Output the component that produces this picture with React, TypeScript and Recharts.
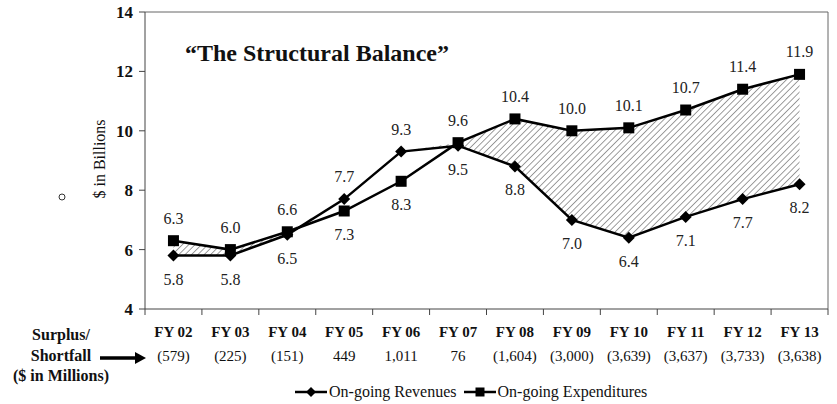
import {
  ComposedChart,
  Line,
  Area,
  XAxis,
  YAxis,
  CartesianGrid,
  LabelList,
  Legend,
} from "recharts";

const years = ["FY 02", "FY 03", "FY 04", "FY 05", "FY 06", "FY 07", "FY 08", "FY 09", "FY 10", "FY 11", "FY 12", "FY 13"];
const revenues = [5.8, 5.8, 6.5, 7.7, 9.3, 9.5, 8.8, 7.0, 6.4, 7.1, 7.7, 8.2];
const expenditures = [6.3, 6.0, 6.6, 7.3, 8.3, 9.6, 10.4, 10.0, 10.1, 10.7, 11.4, 11.9];
const surplus = ["(579)", "(225)", "(151)", "449", "1,011", "76", "(1,604)", "(3,000)", "(3,639)", "(3,637)", "(3,733)", "(3,638)"];
const yTicks = [4, 6, 8, 10, 12, 14];

// hatched band only where spending is above revenue
const data = years.map((name, i) => ({
  name,
  rev: revenues[i],
  exp: expenditures[i],
  band: [revenues[i], Math.max(revenues[i], expenditures[i])],
}));

const W = 837;
const H = 404;
const Y_W = 145;
const M = { top: 12, right: 9, left: 0, bottom: 2 };
const STEP = (W - Y_W - M.right) / years.length;
const FONT = "'Times New Roman', 'Liberation Serif', serif";
const AXIS = "#444";

const XTick = (props: any) => {
  const { x, y, payload, index } = props;
  const half = STEP / 2;
  return (
    <g>
      <line x1={x + half} x2={x + half} y1={y} y2={y + 6} stroke={AXIS} />
      {index === 0 && <line x1={x - half} x2={x - half} y1={y} y2={y + 6} stroke={AXIS} />}
      <text x={x} y={y + 28} textAnchor="middle" fontSize={15} fontWeight="bold" fontFamily={FONT} fill="#111">
        {payload.value}
      </text>
      <text x={x} y={y + 52} textAnchor="middle" fontSize={15} fontFamily={FONT} fill="#111">
        {surplus[index]}
      </text>
    </g>
  );
};

const pointLabel = (own: number[], other: number[]) => (props: any) => {
  const { x, y, index } = props;
  const above = own[index] >= other[index];
  return (
    <text x={x} y={above ? y - 17 : y + 29} textAnchor="middle" fontSize={16} fontFamily={FONT} fill="#222">
      {own[index].toFixed(1)}
    </text>
  );
};

const Diamond = (props: any) => {
  const { cx, cy } = props;
  if (cx == null || cy == null) return null;
  return <polygon points={`${cx},${cy - 6} ${cx + 6},${cy} ${cx},${cy + 6} ${cx - 6},${cy}`} fill="#000" />;
};

const Square = (props: any) => {
  const { cx, cy } = props;
  if (cx == null || cy == null) return null;
  return <rect x={cx - 5.5} y={cy - 5.5} width={11} height={11} fill="#000" />;
};

const LegendContent = () => (
  <div style={{ display: "flex", alignItems: "center", height: 20, fontFamily: FONT, fontSize: 16, color: "#111" }}>
    <svg width={32} height={14}>
      <line x1={0} x2={32} y1={7} y2={7} stroke="#000" strokeWidth={2.5} />
      <polygon points="16,2 21,7 16,12 11,7" fill="#000" />
    </svg>
    <span style={{ marginLeft: 2, marginRight: 7 }}>On-going Revenues</span>
    <svg width={32} height={14}>
      <line x1={0} x2={32} y1={7} y2={7} stroke="#000" strokeWidth={2.5} />
      <rect x={11.5} y={2.5} width={9} height={9} fill="#000" />
    </svg>
    <span style={{ marginLeft: 2 }}>On-going Expenditures</span>
  </div>
);

export default function App() {
  return (
    <div style={{ position: "absolute", left: 0, top: 0, background: "#fff" }}>
      <ComposedChart width={W} height={H} data={data} margin={M}>
        <defs>
          <pattern id="hatch" patternUnits="userSpaceOnUse" width={4.5} height={4.5} patternTransform="rotate(45)">
            <line x1={0} y1={0} x2={0} y2={4.5} stroke="#333" strokeWidth={1.6} />
          </pattern>
        </defs>
        {/* frame: top and right edges of the plot box */}
        <CartesianGrid
          stroke="#666"
          strokeDasharray=""
          horizontalCoordinatesGenerator={({ offset }: any) => [offset.top]}
          verticalCoordinatesGenerator={({ offset }: any) => [offset.left + offset.width]}
        />
        <XAxis
          dataKey="name"
          height={73}
          padding={{ left: STEP / 2, right: STEP / 2 }}
          tickSize={0}
          tickMargin={0}
          tickLine={false}
          axisLine={{ stroke: AXIS }}
          tick={<XTick />}
          interval={0}
        />
        <YAxis
          width={Y_W}
          domain={[4, 14]}
          ticks={yTicks}
          tickSize={6}
          tickMargin={6}
          axisLine={{ stroke: AXIS }}
          tickLine={{ stroke: AXIS }}
          tick={{ fill: "#111", fontSize: 17, fontWeight: "bold", fontFamily: FONT }}
        />
        <Legend verticalAlign="bottom" content={<LegendContent />} wrapperStyle={{ left: 295, width: 400 }} />
        <Area dataKey="band" fill="url(#hatch)" stroke="none" dot={false} activeDot={false} isAnimationActive={false} />
        <Line dataKey="rev" stroke="#000" strokeWidth={2.5} dot={<Diamond />} activeDot={false} isAnimationActive={false}>
          <LabelList dataKey="rev" content={pointLabel(revenues, expenditures)} />
        </Line>
        <Line dataKey="exp" stroke="#000" strokeWidth={2.5} dot={<Square />} activeDot={false} isAnimationActive={false}>
          <LabelList dataKey="exp" content={pointLabel(expenditures, revenues)} />
        </Line>
        <text x={185} y={61} fontSize={24} fontWeight="bold" fontFamily={FONT} fill="#111">
          “The Structural Balance”
        </text>
        <text transform="translate(105,159) rotate(-90)" textAnchor="middle" fontSize={16} fontFamily={FONT} fill="#111">
          $ in Billions
        </text>
        <circle cx={62} cy={197} r={3} fill="none" stroke="#333" />
        <g fontFamily={FONT} fontSize={16} fontWeight="bold" fill="#111" textAnchor="middle">
          <text x={61} y={340}>Surplus/</text>
          <text x={61} y={361}>Shortfall</text>
          <text x={61} y={381}>($ in Millions)</text>
        </g>
        <line x1={100} x2={136} y1={358} y2={358} stroke="#000" strokeWidth={3.5} />
        <polygon points="135,352 146,358 135,364" fill="#000" />
      </ComposedChart>
    </div>
  );
}
